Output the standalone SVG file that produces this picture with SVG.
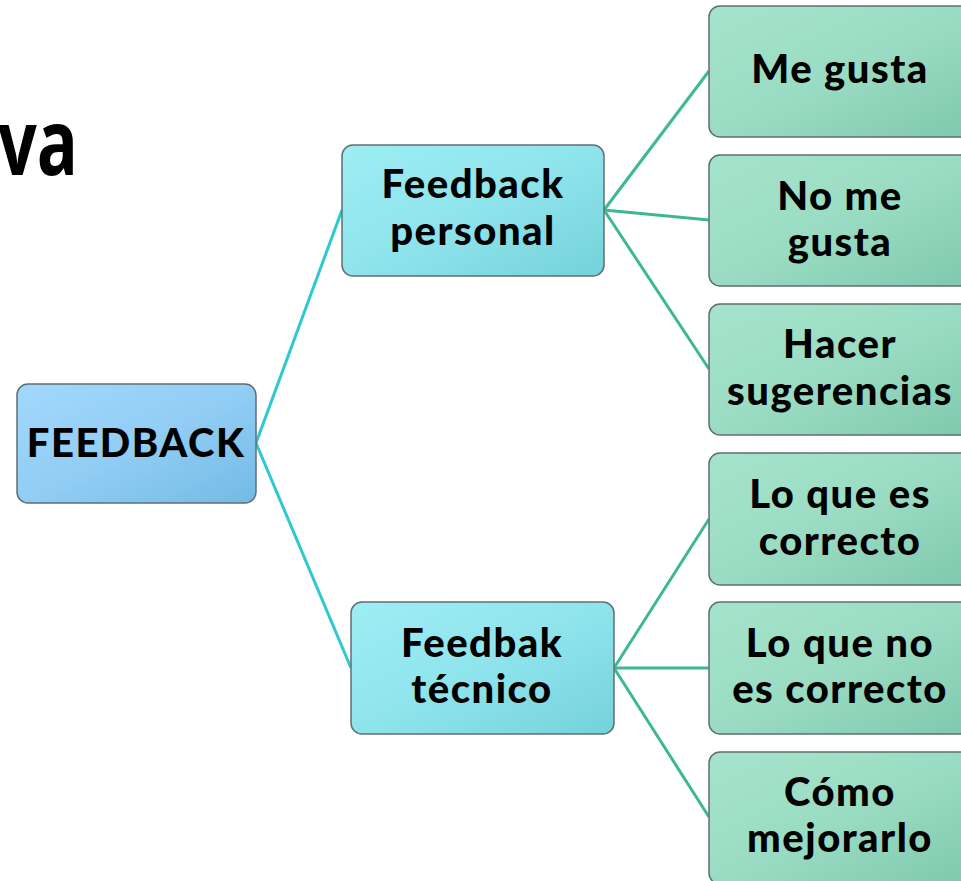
<svg xmlns="http://www.w3.org/2000/svg" width="961" height="881" viewBox="0 0 961 881">
<defs>
<linearGradient id="gBlue" x1="0" y1="0" x2="1" y2="1"><stop offset="0" stop-color="#a2d8fc"/><stop offset="0.5" stop-color="#92cdf5"/><stop offset="1" stop-color="#72bbe4"/></linearGradient>
<linearGradient id="gCyan" x1="0" y1="0" x2="1" y2="1"><stop offset="0" stop-color="#9eedf4"/><stop offset="0.5" stop-color="#8fe4ec"/><stop offset="1" stop-color="#74d2da"/></linearGradient>
<linearGradient id="gGreen" x1="0" y1="0" x2="1" y2="1"><stop offset="0" stop-color="#a5e4cc"/><stop offset="0.5" stop-color="#9adcc3"/><stop offset="1" stop-color="#7ec8ad"/></linearGradient>
<style>
.box{stroke:#5f6f73;stroke-width:1.5}
.t{font-family:"Lato","Noto Sans","DejaVu Sans",sans-serif;font-weight:900;font-size:40px;fill:#000;text-anchor:middle;letter-spacing:1.5px}
.c1{stroke:#2ec8d3;stroke-width:3;fill:none}
.c2{stroke:#3db893;stroke-width:3;fill:none}
</style>
</defs>
<rect width="961" height="881" fill="#fff"/>
<text x="78" y="175" font-family="'Open Sans','Liberation Sans',sans-serif" font-weight="700" font-size="92" text-anchor="end" textLength="80" lengthAdjust="spacingAndGlyphs">va</text>
<g id="connectors">
<line class="c1" x1="256" y1="443" x2="342" y2="210"/>
<line class="c1" x1="256" y1="443" x2="351" y2="668"/>
<line class="c2" x1="604" y1="210" x2="709" y2="71"/>
<line class="c2" x1="604" y1="210" x2="709" y2="220"/>
<line class="c2" x1="604" y1="210" x2="709" y2="369"/>
<line class="c2" x1="614" y1="668" x2="709" y2="519"/>
<line class="c2" x1="614" y1="668" x2="709" y2="668"/>
<line class="c2" x1="614" y1="668" x2="709" y2="817"/>
</g>
<g id="feedback"><rect class="box" x="17" y="384" width="239" height="119" rx="11" fill="url(#gBlue)"/><text class="t" x="136" y="457">FEEDBACK</text></g>
<g id="personal"><rect class="box" x="342" y="145" width="262" height="131" rx="11" fill="url(#gCyan)"/><text class="t" x="473" y="198">Feedback</text><text class="t" x="473" y="245">personal</text></g>
<g id="tecnico"><rect class="box" x="351" y="602" width="263" height="132" rx="11" fill="url(#gCyan)"/><text class="t" x="482" y="657">Feedbak</text><text class="t" x="482" y="703">técnico</text></g>
<g id="megusta"><rect class="box" x="709" y="6" width="262" height="131" rx="11" fill="url(#gGreen)"/><text class="t" x="840" y="83">Me gusta</text></g>
<g id="nomegusta"><rect class="box" x="709" y="155" width="262" height="131" rx="11" fill="url(#gGreen)"/><text class="t" x="840" y="210">No me</text><text class="t" x="840" y="256">gusta</text></g>
<g id="sugerencias"><rect class="box" x="709" y="304" width="262" height="131" rx="11" fill="url(#gGreen)"/><text class="t" x="840" y="358">Hacer</text><text class="t" x="840" y="405">sugerencias</text></g>
<g id="correcto"><rect class="box" x="709" y="453" width="262" height="132" rx="11" fill="url(#gGreen)"/><text class="t" x="840" y="508">Lo que es</text><text class="t" x="840" y="555">correcto</text></g>
<g id="nocorrecto"><rect class="box" x="709" y="602" width="262" height="132" rx="11" fill="url(#gGreen)"/><text class="t" x="840" y="657">Lo que no</text><text class="t" x="840" y="703">es correcto</text></g>
<g id="mejorarlo"><rect class="box" x="709" y="752" width="262" height="132" rx="11" fill="url(#gGreen)"/><text class="t" x="840" y="806">Cómo</text><text class="t" x="840" y="852">mejorarlo</text></g>
</svg>
